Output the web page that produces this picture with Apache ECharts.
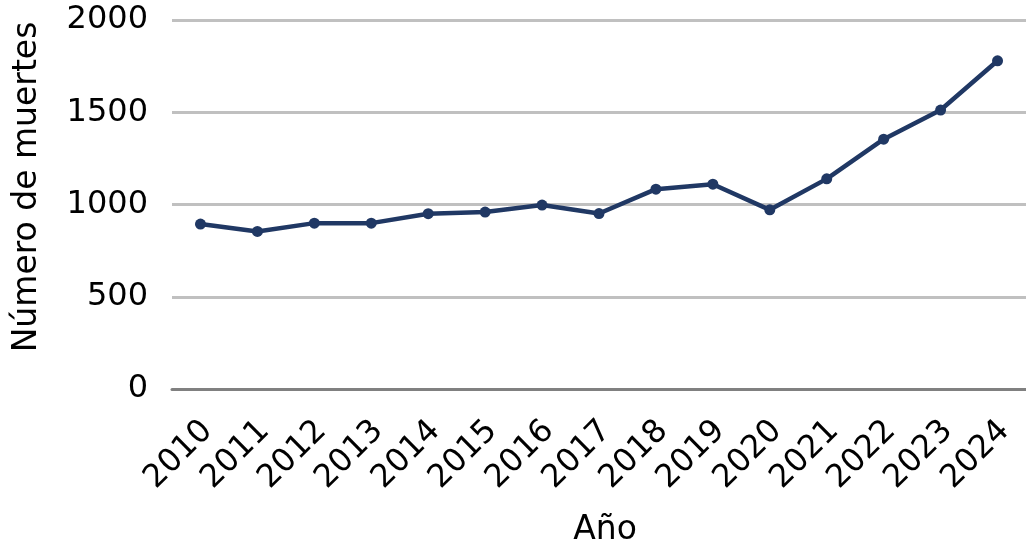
<!DOCTYPE html>
<html>
<head>
<meta charset="utf-8">
<script src="https://cdn.jsdelivr.net/npm/echarts@6/dist/echarts.min.js"></script>
<style>
  html, body { margin: 0; padding: 0; background: #ffffff; }
  #chart { width: 1026px; height: 546px; }
</style>
</head>
<body>
<div id="chart"></div>
<script>
// Muertes registradas por año
const years = ['2010', '2011', '2012', '2013', '2014', '2015', '2016', '2017',
               '2018', '2019', '2020', '2021', '2022', '2023', '2024'];
const deaths = [894, 854, 899, 899, 950, 959, 997, 951,
                1083, 1110, 971, 1139, 1354, 1512, 1779];
const yTicks = [0, 500, 1000, 1500, 2000];

const FONT = 'DejaVu Sans';
const chart = echarts.init(document.getElementById('chart'), null, { renderer: 'canvas' });

chart.setOption({
  animation: false,
  backgroundColor: '#ffffff',
  grid: { left: 172, right: -4, top: 20, bottom: 157, containLabel: false },
  xAxis: {
    type: 'category',
    data: years,
    boundaryGap: true,
    axisLine: { show: true, lineStyle: { color: '#808080', width: 3 } },
    axisTick: { show: false },
    axisLabel: {
      rotate: 45,
      interval: 0,
      margin: 44,
      padding: [0, -10, 0, 0],
      color: '#000000',
      fontFamily: FONT,
      fontSize: 32
    }
  },
  yAxis: {
    type: 'value',
    min: yTicks[0],
    max: yTicks[yTicks.length - 1],
    interval: yTicks[1] - yTicks[0],
    axisLine: { show: false },
    axisTick: { show: false },
    splitLine: { lineStyle: { color: '#c0c0c0', width: 3 } },
    axisLabel: {
      margin: 24,
      color: '#000000',
      fontFamily: FONT,
      fontSize: 32,
      formatter: function (v) { return String(v); }
    }
  },
  graphic: [
    {
      type: 'text',
      x: 27,
      y: 187,
      rotation: Math.PI / 2,
      style: {
        text: 'Número de muertes',
        fill: '#000000',
        font: '33px "' + FONT + '"',
        align: 'center',
        verticalAlign: 'middle'
      }
    },
    {
      type: 'text',
      x: 605,
      y: 530,
      style: {
        text: 'Año',
        fill: '#000000',
        font: '33px "' + FONT + '"',
        align: 'center',
        verticalAlign: 'middle'
      }
    }
  ],
  series: [{
    type: 'line',
    data: deaths,
    symbol: 'circle',
    symbolSize: 11,
    lineStyle: { color: '#203864', width: 4.5 },
    itemStyle: { color: '#203864' },
    z: 5
  }]
});
</script>
</body>
</html>
